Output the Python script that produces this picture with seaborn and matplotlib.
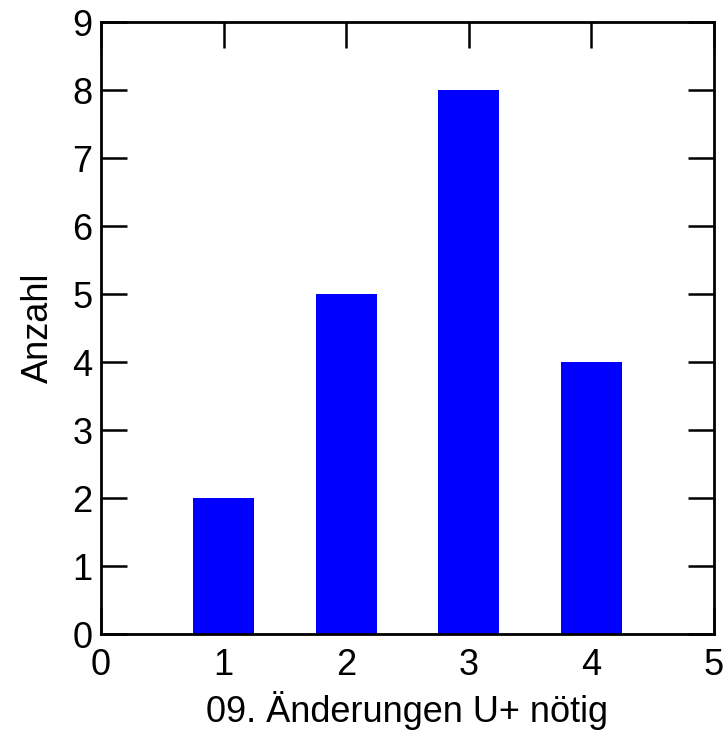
import matplotlib
matplotlib.use("Agg")
import matplotlib.pyplot as plt
import seaborn as sns
import pandas as pd

categories = [1, 2, 3, 4]
counts = [2, 5, 8, 4]
x_ticks = [0, 1, 2, 3, 4, 5]
y_ticks = [0, 1, 2, 3, 4, 5, 6, 7, 8, 9]

sns.set_theme(style="ticks")
plt.rcParams['font.family'] = ['Liberation Sans', 'DejaVu Sans']
plt.rcParams['text.color'] = 'black'
plt.rcParams['axes.labelcolor'] = 'black'

df = pd.DataFrame({"x": categories, "y": counts})

fig = plt.figure(figsize=(7.26, 7.33), dpi=100)
ax = fig.add_axes([101/726, 1-634/733, (714-101)/726, (634-22)/733])
sns.barplot(data=df, x="x", y="y", native_scale=True, width=0.5,
            color="#0000FF", saturation=1, linewidth=0, ax=ax)
ax.set_xlim(0, 5)
ax.set_ylim(0, 9)
ax.set_xticks(x_ticks)
ax.set_yticks(y_ticks)
ax.tick_params(direction="in", length=19, width=1.8, top=True, right=True,
               labelsize=26, color="black", labelcolor="black")
ax.tick_params(axis="x", pad=10)
ax.tick_params(axis="y", pad=6)
for s in ax.spines.values():
    s.set_linewidth(2)
    s.set_color("black")
ax.set_xlabel("09. Änderungen U+ nötig", fontsize=26, labelpad=6)
ax.set_ylabel("Anzahl", fontsize=26, labelpad=12)
fig.savefig("out.png", dpi=100)
